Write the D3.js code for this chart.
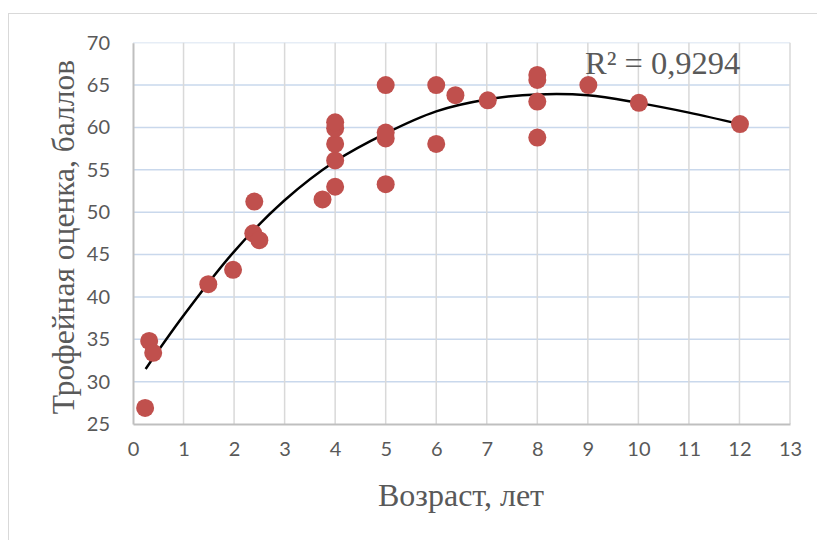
<!DOCTYPE html>
<html><head><meta charset="utf-8">
<script src="https://cdn.jsdelivr.net/npm/d3@7"></script>
<style>body{margin:0;background:#fff}svg{display:block}</style>
</head><body><svg id="c" width="817" height="540"></svg>
<script>
// Data
const ageYears = [0.24,0.32,0.40,1.49,1.98,2.40,2.38,2.50,3.75,4,4,4,4,4,5,5,5,5,6,6,6.38,7.02,8,8,8,8,9.01,10.01,12.01];
const trophyScore = [26.9,34.8,33.4,41.5,43.2,51.25,47.5,46.7,51.5,53.0,56.1,58.05,59.9,60.6,53.3,58.7,59.4,65.0,58.05,65.0,63.8,63.2,58.8,63.05,65.6,66.2,65.0,62.9,60.4];
// Trendline (polynomial)
const trendX = [0.25,1,2,3,4,5,6,7,8,9,10,11,12];
const trendY = [31.5,37.8,45.35,51.4,56.0,59.3,61.9,63.3,63.9,63.8,62.9,61.75,60.4];
const xTicks = [0,1,2,3,4,5,6,7,8,9,10,11,12,13];
const yTicks = [25,30,35,40,45,50,55,60,65,70];
const xTitle = "Возраст, лет";
const yTitle = "Трофейная оценка, баллов";
const r2Label = "R² = 0,9294";

const svg = d3.select("#c");
const L = 133, R = 790, T = 42.7, B = 424;
const x = d3.scaleLinear().domain([0,13]).range([L,R]);
const y = d3.scaleLinear().domain([25,70]).range([B,T]);

// outer border
svg.append("rect").attr("x",8.5).attr("y",13.5).attr("width",830).attr("height",560)
  .attr("fill","none").attr("stroke","#d9d9d9").attr("stroke-width",1);

// gridlines
svg.append("g").selectAll("line").data(yTicks.filter(d=>d>25)).join("line")
  .attr("x1",L).attr("x2",R).attr("y1",d=>y(d)).attr("y2",d=>y(d))
  .attr("stroke",d=>d===70?"#e6edf6":"#c9d8ec").attr("stroke-width",1.5);
svg.append("g").selectAll("line").data(xTicks.filter(d=>d>0)).join("line")
  .attr("y1",T).attr("y2",B).attr("x1",d=>x(d)).attr("x2",d=>x(d))
  .attr("stroke","#d9d9d9").attr("stroke-width",1.5);

// axes
const font = "Lato, 'Open Sans', sans-serif";
const xAxis = svg.append("g").attr("transform",`translate(0,${B})`)
  .call(d3.axisBottom(x).tickValues(xTicks).tickSize(0).tickPadding(18).tickFormat(d3.format("d")));
const yAxis = svg.append("g").attr("transform",`translate(${L},0)`)
  .call(d3.axisLeft(y).tickValues(yTicks).tickSize(0).tickPadding(23).tickFormat(d3.format("d")));
[xAxis,yAxis].forEach(a=>{
  a.select(".domain").attr("stroke","#bfbfbf").attr("stroke-width",2);
  a.selectAll("text").attr("fill","#595959").style("font-family",font).style("font-size","20px");
});

// trendline
svg.append("path").datum(trendX.map((d,i)=>[d,trendY[i]]))
  .attr("d",d3.line().x(d=>x(d[0])).y(d=>y(d[1])).curve(d3.curveCatmullRom))
  .attr("fill","none").attr("stroke","#000").attr("stroke-width",2.5);

// points
svg.append("g").selectAll("circle").data(ageYears.map((d,i)=>[d,trophyScore[i]])).join("circle")
  .attr("cx",d=>x(d[0])).attr("cy",d=>y(d[1])).attr("r",9).attr("fill","#c0504d");

// trendline R² label
const serif = "'Liberation Serif','Times New Roman',serif";
svg.append("text").attr("x",585).attr("y",74).text(r2Label)
  .attr("fill","#595959").style("font-family",serif).style("font-size","32.5px");

// axis titles
svg.append("text").attr("x",461).attr("y",506).attr("text-anchor","middle").text(xTitle)
  .attr("fill","#595959").style("font-family",serif).style("font-size","32px");
svg.append("text").attr("transform","translate(74,237) rotate(-90)").attr("text-anchor","middle").text(yTitle)
  .attr("fill","#595959").style("font-family",serif).style("font-size","31.5px");
</script></body></html>
